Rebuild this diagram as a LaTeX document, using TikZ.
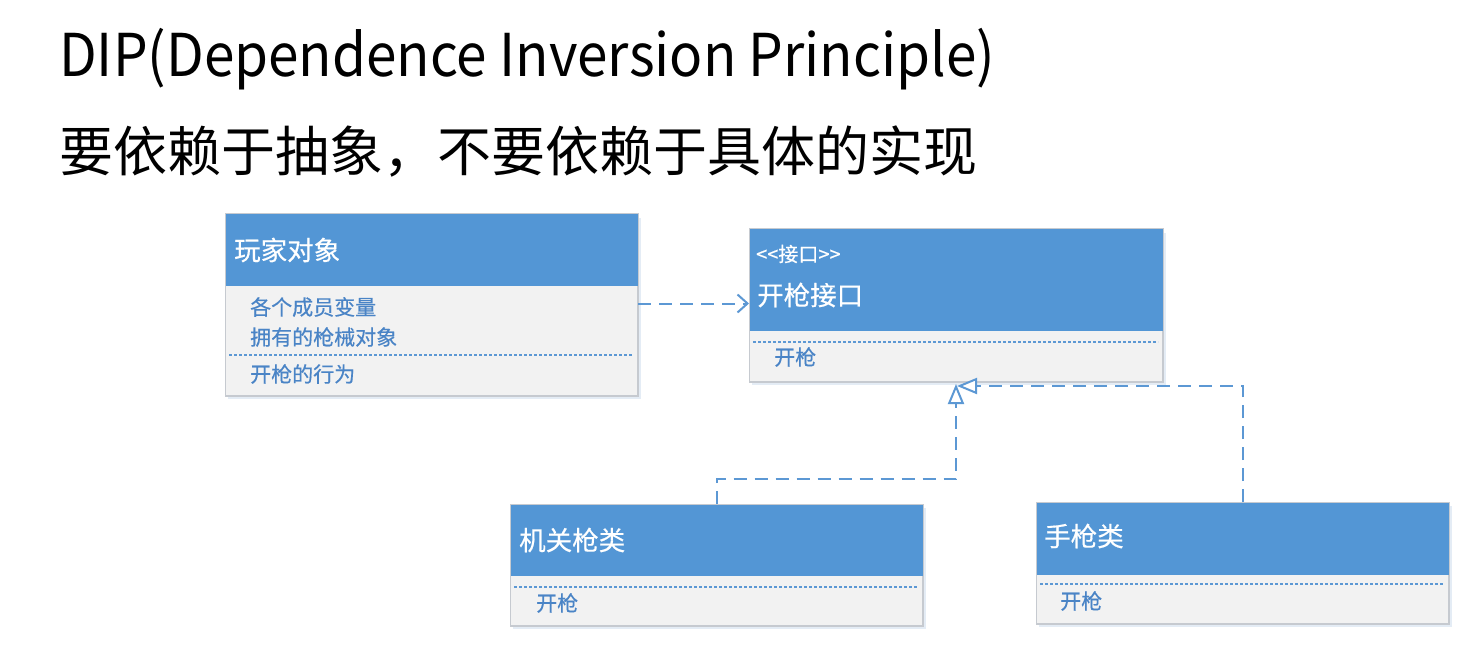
\documentclass[tikz,border=0pt]{standalone}
\usepackage{fontspec}
\setmainfont{Noto Sans CJK SC}
\usetikzlibrary{arrows.meta,calc}
\definecolor{hdr}{RGB}{83,150,213}
\definecolor{bodyc}{RGB}{242,242,242}
\definecolor{brd}{RGB}{198,202,208}
\definecolor{txtb}{RGB}{74,132,198}
\definecolor{lnb}{RGB}{92,152,212}
\definecolor{shd}{RGB}{228,236,245}
\tikzset{
  classbox/.style={draw=brd, fill=bodyc, line width=1pt, inner sep=0pt, anchor=north west},
  hdrtxt/.style={text=white, inner sep=0pt, anchor=west, font=\fontsize{26.5}{26.5}\selectfont\addfontfeature{FakeBold=0.5}},
  stereo/.style={text=white, inner sep=0pt, anchor=west, font=\fontsize{20}{20}\selectfont\addfontfeature{FakeBold=0.5}},
  membertxt/.style={text=txtb, inner sep=0pt, anchor=west, font=\fontsize{21}{21}\selectfont\addfontfeature{FakeBold=0.5}},
  sepline/.style={draw=lnb, line width=1.2pt, dash pattern=on 3pt off 2pt},
  dep/.style={draw=lnb, line width=2pt, dash pattern=on 13pt off 8pt, -{Straight Barb[length=10pt,width=18pt,line width=2pt]}},
  real/.style={draw=lnb, line width=2pt, dash pattern=on 13pt off 8pt, -{Triangle[open,fill=white,length=20pt,width=16pt,line width=2pt]}},
}
\begin{document}
\begin{tikzpicture}[x=1pt,y=-1pt]
\useasboundingbox (0,0) rectangle (1469,660);
\fill[white] (0,0) rectangle (1469,660);

% titles
\node[anchor=base west, inner sep=0pt, font=\fontsize{59}{59}\selectfont] (t1) at (59,77) {\scalebox{0.93}[1]{DIP(Dependence Inversion Principle)}};
\node[anchor=base west, inner sep=0pt, font=\fontsize{54}{54}\selectfont] (t2) at (59,172) {要依赖于抽象，不要依赖于具体的实现};

% shadows
\fill[shd] (228,218) rectangle (641,399);
\fill[shd] (752,233) rectangle (1166,385);
\fill[shd] (513,508) rectangle (926,629);
\fill[shd] (1039,506) rectangle (1452,627);

% player box
\node[classbox, minimum width=412pt, minimum height=181pt] (player) at (225,214) {};
\fill[hdr] (player.north west) rectangle ($(player.north east)+(0,72)$);
\node[hdrtxt] (playerT) at (234,250) {玩家对象};
\node[membertxt] (m1) at (250,307) {各个成员变量};
\node[membertxt] (m2) at (250,337) {拥有的枪械对象};
\draw[sepline] (229,355) -- (632,355);
\node[membertxt] (m3) at (250,374) {开枪的行为};

% interface box
\node[classbox, minimum width=413pt, minimum height=152pt] (iface) at (749,229) {};
\fill[hdr] (iface.north west) rectangle ($(iface.north east)+(0,102)$);
\node[stereo] (ifS) at (756,254) {<{}<接口>{}>};
\node[hdrtxt] (ifT) at (757,295) {开枪接口};
\draw[sepline] (753,342) -- (1158,342);
\node[membertxt] (ifM) at (774,357) {开枪};

% machine gun box
\node[classbox, minimum width=412pt, minimum height=121pt] (mg) at (510,504) {};
\fill[hdr] (mg.north west) rectangle ($(mg.north east)+(0,72)$);
\node[hdrtxt] (mgT) at (519,540) {机关枪类};
\draw[sepline] (514,587) -- (918,587);
\node[membertxt] (mgM) at (536,603) {开枪};

% hand gun box
\node[classbox, minimum width=412pt, minimum height=121pt] (hg) at (1036,502) {};
\fill[hdr] (hg.north west) rectangle ($(hg.north east)+(0,73)$);
\node[hdrtxt] (hgT) at (1044,536) {手枪类};
\draw[sepline] (1040,584) -- (1444,584);
\node[membertxt] (hgM) at (1060,601) {开枪};

% redraw borders on top
\draw[brd, line width=1pt] (player.north west) rectangle (player.south east);
\draw[brd, line width=1pt] (iface.north west) rectangle (iface.south east);
\draw[brd, line width=1pt] (mg.north west) rectangle (mg.south east);
\draw[brd, line width=1pt] (hg.north west) rectangle (hg.south east);

% connectors
\coordinate (depS) at ($(player.east)+(0,-1.5)$);
\draw[dep] (depS) -- (depS -| iface.west);
\coordinate (tipA) at ($(iface.south)+(0,2)$);
\coordinate (tipB) at ($(iface.south)+(1,4)$);
\draw[real] (mg.north) -- ++(0,-25) -| (tipA);
\draw[real] (hg.north) |- (tipB);
\end{tikzpicture}
\end{document}
